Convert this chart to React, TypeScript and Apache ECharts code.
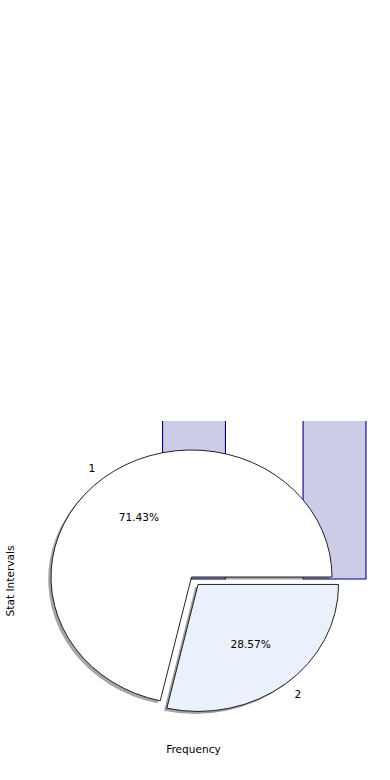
import React, { useEffect, useRef } from "react";
import * as echarts from "echarts";

// ---- data ----
const barPositions = [1, 2];
const barValues = [5, 2];
const pieLabels = ["1", "2"];
const pieValues = [5, 2];
const pieColors = ["#ffffff", "#eaf1fc"];
const pieExplode = [0, 0.075];
const xAxisTitle = "Frequency";
const yAxisTitle = "Stat Intervals";

// ---- layout ----
const CX = 191.5;
const CY = 577;
const RX = 140.5;
const RY = 127;
const FONT = "DejaVu Sans";
const FS = 10.6;

const total = pieValues.reduce((a, b) => a + b, 0);
const cumStart: number[] = [];
pieValues.reduce((acc, v, i) => {
  cumStart[i] = acc;
  return acc + v;
}, 0);

function wedgeGeom(i: number) {
  const t1 = (360 * cumStart[i]) / total;
  const t2 = (360 * (cumStart[i] + pieValues[i])) / total;
  const tm = ((t1 + t2) / 2) * (Math.PI / 180);
  const e = pieExplode[i] || 0;
  const ox = e * RX * Math.cos(tm);
  const oy = -e * RY * Math.sin(tm);
  return {
    start: (-t2 * Math.PI) / 180,
    end: (-t1 * Math.PI) / 180,
    tm,
    ox,
    oy,
  };
}

function shadowColor(hex: string) {
  const r = parseInt(hex.slice(1, 3), 16);
  const g = parseInt(hex.slice(3, 5), 16);
  const b = parseInt(hex.slice(5, 7), 16);
  return `rgba(${Math.round(r * 0.3)},${Math.round(g * 0.3)},${Math.round(b * 0.3)},0.5)`;
}

export default function App() {
  const ref = useRef<HTMLDivElement>(null);
  useEffect(() => {
    if (!ref.current) return;
    const chart = echarts.init(ref.current, undefined, { renderer: "svg" });
    chart.setOption({
      animation: false,
      backgroundColor: "#ffffff",
      grid: { left: 0, right: 0, top: 421, bottom: 200.5 },
      xAxis: {
        type: "value",
        min: -0.3808,
        max: 2.395,
        show: false,
      },
      yAxis: { type: "value", min: 0, max: 1, show: false },
      series: [
        {
          type: "bar",
          data: barPositions.map((x, i) => [x, barValues[i]]),
          barWidth: 64,
          clip: false,
          z: 1,
          itemStyle: {
            color: "rgba(0,0,128,0.2)",
            borderColor: "#00008b",
            borderWidth: 1.1,
          },
          silent: true,
        },
        {
          type: "custom",
          coordinateSystem: "none",
          z: 2,
          silent: true,
          data: pieValues.map((v) => [v]),
          renderItem: (params: any) => {
            const i = params.dataIndex;
            const g = wedgeGeom(i);
            return {
              type: "sector",
              x: CX + g.ox - 0.02 * RX,
              y: CY + g.oy + 0.02 * RY,
              scaleY: RY / RX,
              shape: { cx: 0, cy: 0, r: RX, r0: 0, startAngle: g.start, endAngle: g.end, clockwise: true },
              style: { fill: shadowColor(pieColors[i]), stroke: "none" },
            };
          },
        },
        {
          type: "custom",
          coordinateSystem: "none",
          z: 3,
          silent: true,
          data: pieValues.map((v) => [v]),
          renderItem: (params: any) => {
            const i = params.dataIndex;
            const g = wedgeGeom(i);
            const c = Math.cos(g.tm);
            const s = Math.sin(g.tm);
            const pct = ((pieValues[i] / total) * 100).toFixed(2) + "%";
            return {
              type: "group",
              children: [
                {
                  type: "sector",
                  x: CX + g.ox,
                  y: CY + g.oy,
                  scaleY: RY / RX,
                  shape: { cx: 0, cy: 0, r: RX, r0: 0, startAngle: g.start, endAngle: g.end, clockwise: true },
                  style: { fill: pieColors[i], stroke: "#000000", lineWidth: 0.9, strokeNoScale: true },
                },
                {
                  type: "text",
                  x: CX + g.ox + 1.1 * RX * c,
                  y: CY + g.oy - 1.1 * RY * s,
                  style: {
                    text: pieLabels[i],
                    fill: "#000",
                    fontSize: FS,
                    fontFamily: FONT,
                    align: c > 0 ? "left" : "right",
                    verticalAlign: "middle",
                  },
                },
                {
                  type: "text",
                  x: CX + g.ox + 0.6 * RX * c,
                  y: CY + g.oy - 0.6 * RY * s,
                  style: {
                    text: pct,
                    fill: "#000",
                    fontSize: FS,
                    fontFamily: FONT,
                    align: "center",
                    verticalAlign: "middle",
                  },
                },
              ],
            };
          },
        },
      ],
      graphic: [
        {
          type: "rect",
          z: 100,
          silent: true,
          shape: { x: 0, y: 0, width: 390, height: 421 },
          style: { fill: "#ffffff" },
        },
        {
          type: "text",
          x: 193.5,
          y: 749,
          style: {
            text: xAxisTitle,
            fill: "#000",
            fontSize: FS,
            fontFamily: FONT,
            align: "center",
            verticalAlign: "middle",
          },
        },
        {
          type: "text",
          x: 10,
          y: 581,
          rotation: Math.PI / 2,
          style: {
            text: yAxisTitle,
            fill: "#000",
            fontSize: FS,
            fontFamily: FONT,
            align: "center",
            verticalAlign: "middle",
          },
        },
      ],
    });
    return () => chart.dispose();
  }, []);
  return (
    <div
      ref={ref}
      style={{ position: "fixed", left: 0, top: 0, width: 390, height: 780 }}
    />
  );
}
